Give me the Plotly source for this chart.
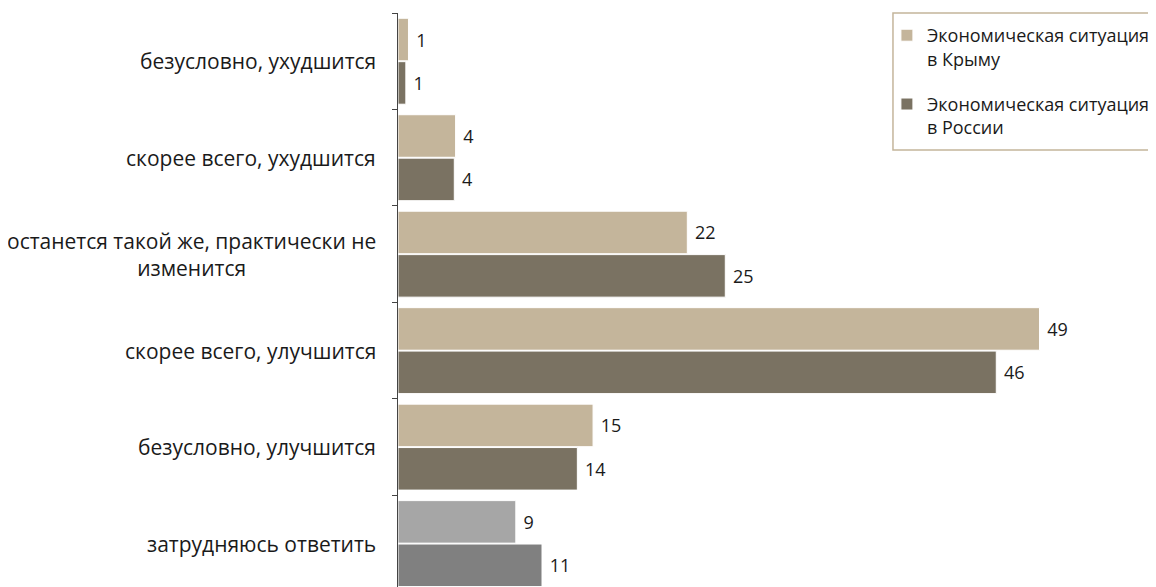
import plotly.graph_objects as go

categories = [
    "безусловно, ухудшится",
    "скорее всего, ухудшится",
    "останется такой же, практически не<br>изменится",
    "скорее всего, улучшится",
    "безусловно, улучшится",
    "затрудняюсь ответить",
]
crimea = [0.8, 4.4, 22.1, 49.0, 14.9, 9.0]
russia = [0.6, 4.3, 25.0, 45.7, 13.7, 11.0]
crimea_labels = ["1", "4", "22", "49", "15", "9"]
russia_labels = ["1", "4", "25", "46", "14", "11"]
series_names = ["Экономическая ситуация<br>в Крыму", "Экономическая ситуация<br>в России"]

crimea_colors = ["#c4b59b"] * 5 + ["#a6a6a6"]
russia_colors = ["#7a7262"] * 5 + ["#808080"]

FONT = "Open Sans"

fig = go.Figure()
fig.add_trace(go.Bar(
    y=categories, x=crimea, orientation="h", name=series_names[0],
    marker=dict(color=crimea_colors, line=dict(color="white", width=1)),
    text=crimea_labels, texttemplate=" %{text}", textposition="outside",
    textfont=dict(size=18, color="#1a1a1a"), cliponaxis=False,
    legendgroup="a",
))
fig.add_trace(go.Bar(
    y=categories, x=russia, orientation="h", name=series_names[1],
    marker=dict(color=russia_colors, line=dict(color="white", width=1)),
    text=russia_labels, texttemplate=" %{text}", textposition="outside",
    textfont=dict(size=18, color="#1a1a1a"), cliponaxis=False,
    legendgroup="b",
))

for c in categories:
    fig.add_annotation(
        x=-0.0264, xref="paper", y=c, yref="y", text=c, showarrow=False,
        xanchor="right", yanchor="middle", align="center",
        font=dict(size=21, color="#1a1a1a", family=FONT),
    )

# legend frame
fig.add_shape(
    type="rect", xref="paper", yref="paper",
    x0=0.653, x1=1.02, y0=0.7613, y1=1.0,
    line=dict(color="#c4b59b", width=1.5), fillcolor="white", layer="above",
)

# page body has a default 8px margin, so the figure is drawn 8px smaller and offset
fig.update_layout(
    width=1148, height=579,
    margin=dict(l=390, r=0, t=5, b=0, autoexpand=False),
    paper_bgcolor="white", plot_bgcolor="white",
    font=dict(family=FONT, size=18, color="#1a1a1a"),
    barmode="group", bargap=0.1, bargroupgap=0.02,
    showlegend=True,
    legend=dict(
        x=0.645, y=0.993, xanchor="left", yanchor="top",
        borderwidth=0, bgcolor="rgba(0,0,0,0)",
        traceorder="grouped", tracegroupgap=19, valign="top",
        font=dict(size=18, family=FONT, color="#1a1a1a"),
        itemwidth=30,
    ),
    xaxis=dict(range=[0, 57.9], visible=False),
    yaxis=dict(
        categoryorder="array", categoryarray=categories,
        range=[5.45, -0.5], showticklabels=False, automargin=False,
        ticks="outside", tickson="boundaries", ticklen=5,
        tickcolor="#444", showline=True, linecolor="#444", linewidth=1,
        showgrid=False, zeroline=False,
    ),
)

fig.write_html("out.html")
